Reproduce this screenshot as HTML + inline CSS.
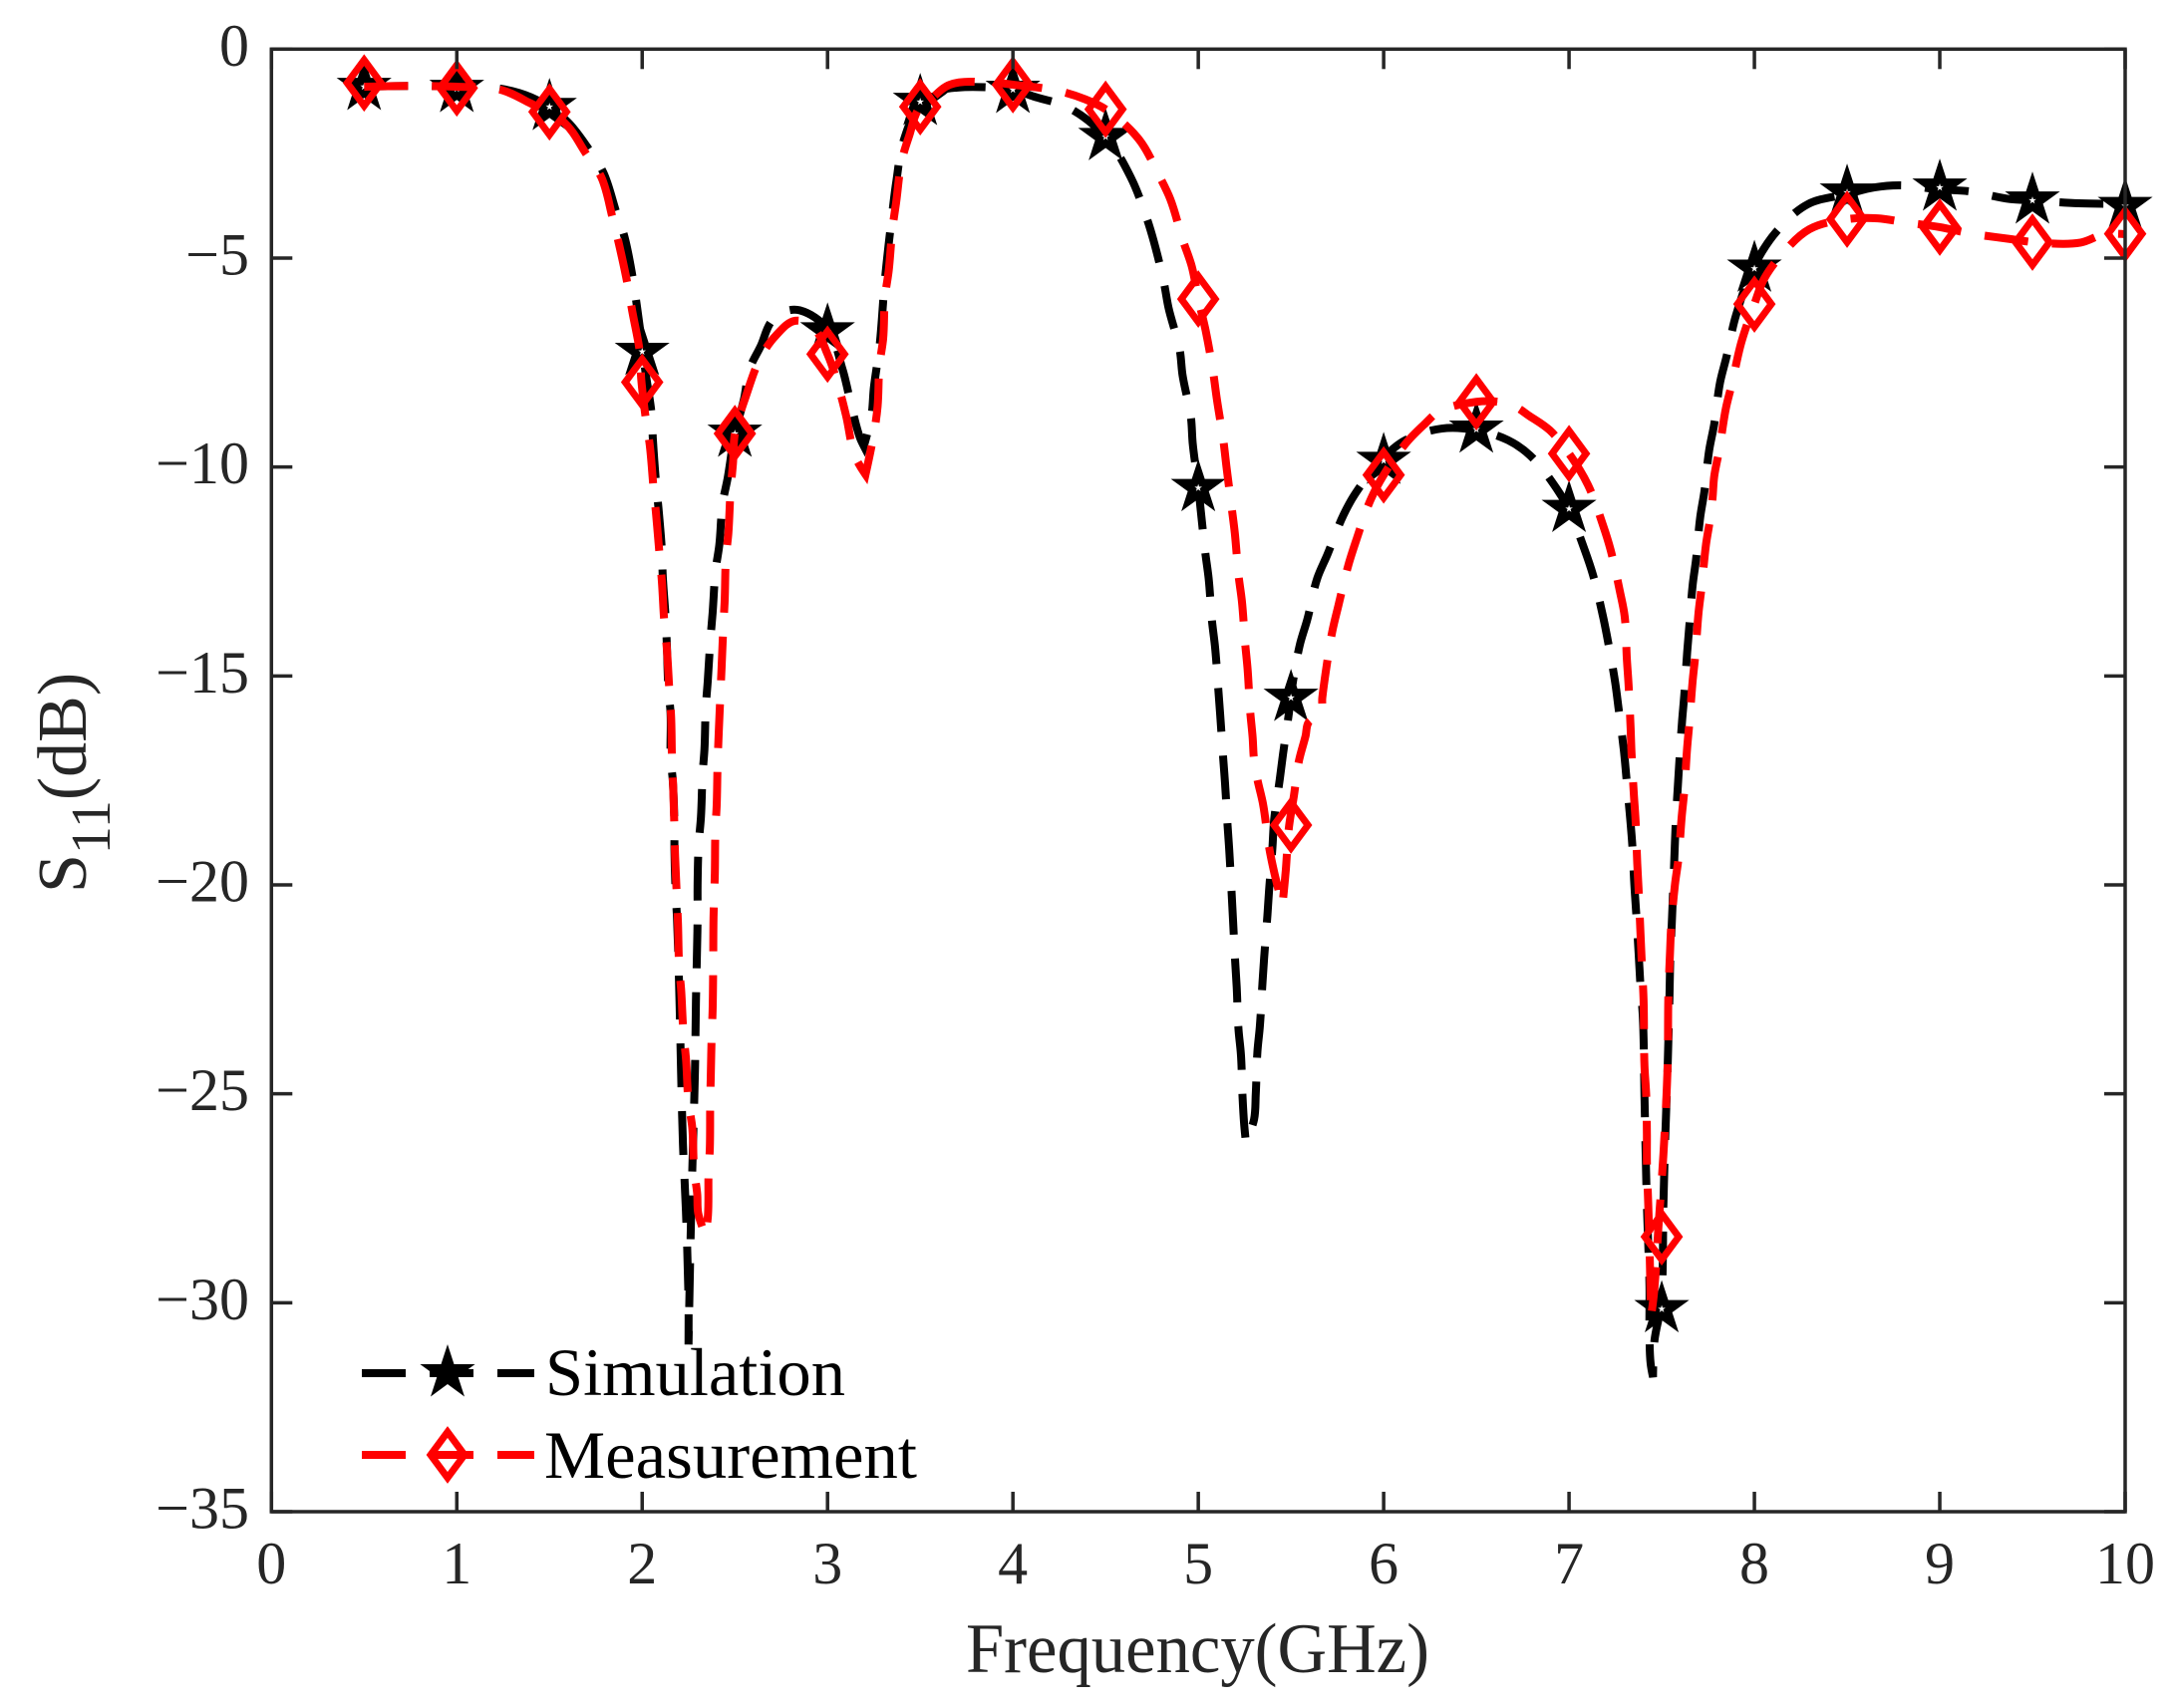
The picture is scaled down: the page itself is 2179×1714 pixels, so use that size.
<!DOCTYPE html>
<html lang="en">
<head>
<meta charset="utf-8">
<title>S11 versus frequency</title>
<style>
html,body{margin:0;padding:0;background:#fff;}
svg{display:block;}
text{font-family:"Liberation Serif",serif;}
</style>
</head>
<body>
<svg id="chart" width="2179" height="1714" viewBox="0 0 2179 1714" xmlns="http://www.w3.org/2000/svg">
  <rect x="0" y="0" width="2179" height="1714" fill="#ffffff"/>
  <g id="series-layer"></g>
  <g id="axes-layer"></g>
  <text x="969" y="1678" font-size="71" fill="#262626" textLength="465" lengthAdjust="spacingAndGlyphs">Frequency(GHz)</text>
  <text transform="translate(86,896) rotate(-90)" font-size="70" fill="#262626">S<tspan font-size="56" dy="24">11</tspan><tspan dy="-24">(dB)</tspan></text>
  <g id="legend">
    <line x1="363" y1="1378" x2="536" y2="1378" stroke="#000" stroke-width="8" stroke-dasharray="44 24"/>
    <polygon fill="#000" points="449,1349 455.5,1369 476.6,1369 459.5,1381.4 466,1401.5 449,1389 432,1401.5 438.5,1381.4 421.4,1369 442.5,1369"/>
    <text x="547" y="1400" font-size="68" fill="#000" textLength="301" lengthAdjust="spacingAndGlyphs">Simulation</text>
    <line x1="363" y1="1460" x2="536" y2="1460" stroke="#ff0000" stroke-width="8" stroke-dasharray="44 24"/>
    <polygon fill="none" stroke="#ff0000" stroke-width="7" points="449,1437 466,1460 449,1483 432,1460"/>
    <text x="546" y="1483" font-size="68" fill="#000" textLength="374" lengthAdjust="spacingAndGlyphs">Measurement</text>
  </g>
</svg>
<script>
var xTickValues = [0,1,2,3,4,5,6,7,8,9,10];
var yTickValues = [0,-5,-10,-15,-20,-25,-30,-35];
var markerFreq = [0.5,1,1.5,2,2.5,3,3.5,4,4.5,5,5.5,6,6.5,7,7.5,8,8.5,9,9.5,10];
var simMarkerDb = [-0.9,-0.95,-1.38,-7.24,-9.2,-6.75,-1.26,-0.97,-2.1,-10.5,-15.52,-9.85,-9.1,-11,-30.15,-5.25,-3.43,-3.31,-3.62,-3.75];
var measMarkerDb = [-0.81,-0.93,-1.5,-7.97,-9.2,-7.3,-1.38,-0.85,-1.44,-5.98,-18.57,-10.19,-8.44,-9.68,-28.42,-6.1,-4.07,-4.26,-4.62,-4.42];

var simFreq = [
0.5,0.75,1,1.24,1.4,1.5,1.6,1.705,1.79,1.86,1.905,1.95,1.97,2.005,2.017,2.05,
2.058,2.074,2.088,2.106,2.111,2.127,2.133,2.142,2.153,2.154,2.165,2.174,2.174,2.181,
2.188,2.202,2.21,2.22,2.236,2.25,2.25,
2.265,2.275,2.285,2.29,2.298,2.299,2.299,2.305,2.317,2.326,2.336,2.343,2.354,2.368,2.38,2.396,2.416,2.434,2.461,
2.5,2.55,2.58,2.64,2.7,2.774,2.85,3,3.08,3.135,3.175,3.196,3.237,3.25,3.28,3.31,3.35,3.37,3.41,3.5,3.6,3.7,3.89,4,4.11,4.3,4.5,
4.635,4.72,4.76,4.815,4.84,4.9,4.915,4.96,4.97,5,
5.014,5.038,5.056,5.074,5.09,5.108,5.118,5.134,5.144,5.158,5.167,5.18,5.187,5.199,5.207,5.217,5.23,5.239,5.247,5.257,
5.301,5.31,5.319,5.332,5.346,5.355,5.373,5.382,5.4,5.409,5.439,5.457,5.489,5.498,5.548,5.588,5.642,5.696,5.783,5.848,
6,6.117,6.314,6.5,6.672,6.789,6.932,7,7.084,7.129,7.183,7.21,7.249,7.267,7.296,7.309,7.33,7.341,7.353,7.362,7.376,7.384,7.398,7.407,7.42,7.434,7.434,7.44,7.453,
7.461,7.497,7.504,7.509,7.52,7.531,7.542,7.547,7.554,7.563,7.568,7.577,7.586,7.6,7.61,7.622,7.637,7.649,7.667,7.685,7.708,7.73,7.756,7.783,7.815,7.849,7.9,
8,8.122,8.289,8.5,8.647,8.786,9,9.153,9.38,9.5,9.75,10
];
var simDb = [
-0.9,-0.88,-0.9,-0.95,-1.15,-1.4,-1.75,-2.35,-2.95,-3.9,-4.5,-5.5,-6.1,-7.25,-7.7,-8.7,
-9.36,-10.34,-10.99,-11.98,-12.61,-13.65,-14.25,-15.35,-15.88,-16.99,-17.5,-18.62,-19.14,-20.24,
-20.8,-22.9,-24.5,-26.2,-27.8,-30,-31,
-27.7,-26.1,-24.4,-22.8,-21.1,-20.69,-19.97,-19.02,-18.38,-17.35,-16.75,-15.76,-15.11,-14.13,-13.49,-12.47,-11.87,-10.87,-10.27,
-9.2,-8.36,-7.65,-7.1,-6.5,-6.27,-6.25,-6.7,-7.65,-8.66,-9.3,-9.5,-8.77,-8.1,-7.13,-5.5,-3.9,-3.2,-2.2,-1.33,-1,-0.92,-0.92,-0.97,-1.13,-1.4,-2.1,
-3.06,-4.02,-4.6,-5.6,-6.2,-7.2,-7.8,-8.8,-9.44,-10.47,
-11.07,-12.06,-12.67,-13.69,-14.29,-15.32,-15.92,-16.95,-17.55,-18.58,-19.17,-20.21,-20.81,-21.84,-22.43,-23.46,-24.06,-25.1,-25.7,-26.17,
-25.61,-25.01,-23.99,-23.39,-22.36,-21.76,-20.72,-20.12,-19.1,-18.45,-17.49,-16.87,-15.88,-15.52,-14.25,-13.65,-12.66,-12.1,-11.15,-10.63,
-9.77,-9.36,-9.08,-9.12,-9.36,-9.72,-10.51,-11.03,-11.98,-12.58,-13.57,-14.17,-15.16,-15.77,-16.79,-17.41,-18.42,-19.03,-20.05,-20.65,-21.68,-22.32,-23.15,-25.06,-27.66,-29.61,-30.68,-31.45,-31.78,
-30.9,-30.04,-29.4,-27.66,-25.92,-24.51,-22.63,-21.64,-20.96,-19.97,-19.37,-18.38,-17.71,-16.71,-16.07,-15.44,-14.45,-13.8,-12.82,-12.22,-11.19,-10.59,-9.6,-8.98,-7.97,-7.37,-6.38,
-5.18,-4.35,-3.71,-3.47,-3.31,-3.26,-3.36,-3.4,-3.59,-3.62,-3.69,-3.7
];

var measFreq = [
0.5,0.75,1,1.235,1.39,1.58,1.7,1.78,1.84,1.875,1.92,1.946,1.987,1.995,2.02,
2.041,2.061,2.074,2.094,2.106,2.12,2.133,2.147,2.156,2.161,2.167,2.174,2.177,2.187,
2.193,2.2,2.21,2.222,2.237,2.25,2.27,2.28,2.297,2.302,2.342,
2.355,2.358,2.365,2.367,2.37,2.375,2.38,2.383,2.385,2.392,2.395,2.402,2.407,2.412,2.422,2.428,2.438,2.445,2.452,2.465,2.477,
2.49,2.5,2.56,2.64,2.72,2.826,2.92,3,3.065,3.1,3.15,3.205,3.25,3.27,3.28,3.3,3.31,3.33,3.35,3.37,3.4,3.44,3.5,3.535,3.66,3.885,4,4.245,4.39,4.5,
4.68,4.79,4.85,4.915,4.965,5,5.04,5.08,5.1,5.135,5.153,
5.18,5.197,5.217,5.235,5.253,5.266,5.28,5.293,5.301,5.319,5.349,5.382,5.409,5.454,
5.472,5.489,5.516,5.543,5.579,5.595,5.66,5.669,5.687,5.723,5.755,5.81,5.853,5.929,
6,6.126,6.224,6.296,6.5,6.618,6.708,6.78,6.896,7,7.102,7.183,7.224,7.275,7.3,7.312,7.321,7.332,7.337,7.35,7.359,7.368,7.375,7.385,7.391,7.402,7.407,7.416,7.42,7.42,7.427,7.434,7.442,
7.458,7.482,7.509,7.532,7.536,7.545,7.551,7.572,7.59,7.608,7.622,7.637,7.649,7.667,7.681,7.699,7.715,7.739,7.76,7.774,7.783,7.81,7.846,7.878,7.93,
8,8.052,8.141,8.297,8.5,8.665,8.805,9,9.163,9.39,9.531,9.76,9.888,10
];
var measDb = [
-0.9,-0.88,-0.9,-0.97,-1.28,-1.76,-2.52,-3.07,-4.03,-4.67,-5.6,-6.26,-7.25,-7.9,-8.86,
-9.48,-10.49,-11.08,-12.11,-12.72,-13.75,-14.34,-15.38,-15.97,-17.01,-17.62,-18.66,-19.24,-20.29,
-20.9,-22,-22.5,-23.5,-24.2,-25.2,-25.8,-26.8,-27.4,-27.85,-28.4,
-27.9,-26.9,-26.3,-25.2,-24.6,-23.6,-23,-22,-20.76,-19.73,-18.69,-18.09,-17.07,-16.47,-15.44,-14.84,-13.8,-13.2,-12.16,-11.58,-10.55,
-9.9,-9.2,-8.3,-7.37,-6.86,-6.5,-6.65,-7.3,-8.17,-8.77,-9.76,-10.18,-9.2,-8.55,-7.57,-6.93,-5.93,-5.3,-4.3,-3.67,-2.68,-2.08,-1.38,-1.28,-0.85,-0.8,-0.85,-1,-1.2,-1.44,
-2.16,-3.04,-3.6,-4.55,-5.2,-5.98,-6.74,-7.73,-8.37,-9.36,-10.03,
-10.97,-11.58,-12.59,-13.2,-14.23,-14.84,-15.85,-16.46,-17.02,-17.48,-18.06,-19.1,-19.69,-20.49,
-19.65,-18.62,-17.86,-17.03,-16.43,-16.11,-15.92,-15.52,-14.92,-13.93,-13.33,-12.34,-11.74,-10.79,
-10.19,-9.4,-8.96,-8.68,-8.44,-8.44,-8.55,-8.76,-9.12,-9.68,-10.43,-11.39,-11.98,-12.99,-13.57,-14.6,-15.2,-16.23,-16.83,-17.86,-18.46,-19.49,-20.09,-21.12,-21.72,-22.75,-24.34,-25,-25.98,-26.63,-27.61,-28.64,-30.35,
-29.78,-28.2,-26.46,-24.29,-22.63,-21.6,-21,-19.97,-19.38,-18.36,-17.74,-16.73,-16.13,-15.11,-14.51,-13.47,-12.88,-11.85,-11.27,-10.75,-10.23,-9.6,-8.6,-8.02,-7.01,
-6.1,-5.5,-4.95,-4.31,-4.07,-4.05,-4.14,-4.26,-4.41,-4.55,-4.63,-4.63,-4.43,-4.43
];

var NS = 'http://www.w3.org/2000/svg';
var plotLeft = 272.3, plotRight = 2132, plotTop = 49.3, plotBottom = 1517;
var xMin = 0, xMax = 10, yMin = -35, yMax = 0;
function xScale(f){ return plotLeft + (f - xMin) / (xMax - xMin) * (plotRight - plotLeft); }
function yScale(d){ return plotTop + (yMax - d) / (yMax - yMin) * (plotBottom - plotTop); }

var seriesLayer = document.getElementById('series-layer');
var axesLayer = document.getElementById('axes-layer');

/* Smooth path through the read points; sharp turns (the dips) stay as corners. */
function pathFor(fs, ds){
  var P = [];
  for (var i = 0; i < fs.length; i++) P.push([xScale(fs[i]), yScale(ds[i])]);
  var T = P.map(function(p, i){
    if (i === 0 || i === P.length - 1) return [0, 0];
    var a = [p[0] - P[i-1][0], p[1] - P[i-1][1]];
    var b = [P[i+1][0] - p[0], P[i+1][1] - p[1]];
    var la = Math.hypot(a[0], a[1]) || 1, lb = Math.hypot(b[0], b[1]) || 1;
    if ((a[0]*b[0] + a[1]*b[1]) / (la * lb) < 0.5) return [0, 0];
    var t = [a[0]/la + b[0]/lb, a[1]/la + b[1]/lb];
    var lt = Math.hypot(t[0], t[1]) || 1;
    return [t[0]/lt, t[1]/lt];
  });
  var d = 'M' + P[0][0].toFixed(2) + ' ' + P[0][1].toFixed(2);
  for (var j = 0; j < P.length - 1; j++) {
    var s = Math.hypot(P[j+1][0] - P[j][0], P[j+1][1] - P[j][1]) / 3;
    d += 'C' + (P[j][0] + T[j][0]*s).toFixed(2) + ' ' + (P[j][1] + T[j][1]*s).toFixed(2) + ' ' +
         (P[j+1][0] - T[j+1][0]*s).toFixed(2) + ' ' + (P[j+1][1] - T[j+1][1]*s).toFixed(2) + ' ' +
         P[j+1][0].toFixed(2) + ' ' + P[j+1][1].toFixed(2);
  }
  return d;
}
function starPoints(cx, cy, R){
  var r = R * 0.382, pts = [];
  for (var i = 0; i < 10; i++) {
    var a = -Math.PI / 2 + i * Math.PI / 5, q = i % 2 ? r : R;
    pts.push((cx + q * Math.cos(a)).toFixed(2) + ',' + (cy + q * Math.sin(a)).toFixed(2));
  }
  return pts.join(' ');
}

var simLine = document.createElementNS(NS, 'path');


simLine.setAttribute('d', pathFor(simFreq, simDb));
simLine.setAttribute('fill', 'none');
simLine.setAttribute('stroke', '#000000');
simLine.setAttribute('stroke-width', '8');
simLine.setAttribute('stroke-dasharray', '44 24');
seriesLayer.appendChild(simLine);

markerFreq.forEach(function(f, i){
  var cx = xScale(f), cy = yScale(simMarkerDb[i]);
  var star = document.createElementNS(NS, 'polygon');
  
  
  star.setAttribute('points', starPoints(cx, cy, 29));
  star.setAttribute('fill', '#000000');
  seriesLayer.appendChild(star);
  var spot = document.createElementNS(NS, 'polygon');
  
  
  spot.setAttribute('points', starPoints(cx, cy, 4));
  spot.setAttribute('fill', '#ffffff');
  seriesLayer.appendChild(spot);
});

var measLine = document.createElementNS(NS, 'path');


measLine.setAttribute('d', pathFor(measFreq, measDb));
measLine.setAttribute('fill', 'none');
measLine.setAttribute('stroke', '#ff0000');
measLine.setAttribute('stroke-width', '8');
measLine.setAttribute('stroke-dasharray', '44 24');
seriesLayer.appendChild(measLine);

markerFreq.forEach(function(f, i){
  var cx = xScale(f), cy = yScale(measMarkerDb[i]);
  var d = document.createElementNS(NS, 'polygon');
  
  
  d.setAttribute('points', cx + ',' + (cy - 23) + ' ' + (cx + 17) + ',' + cy + ' ' + cx + ',' + (cy + 23) + ' ' + (cx - 17) + ',' + cy);
  d.setAttribute('fill', 'none');
  d.setAttribute('stroke', '#ff0000');
  d.setAttribute('stroke-width', '7');
  seriesLayer.appendChild(d);
});

var axisColor = '#262626';
var box = document.createElementNS(NS, 'rect');


box.setAttribute('x', plotLeft);
box.setAttribute('y', plotTop);
box.setAttribute('width', plotRight - plotLeft);
box.setAttribute('height', plotBottom - plotTop);
box.setAttribute('fill', 'none');
box.setAttribute('stroke', axisColor);
box.setAttribute('stroke-width', '3.5');
axesLayer.appendChild(box);

xTickValues.forEach(function(v){
  var x = xScale(v);
  var bottomTick = document.createElementNS(NS, 'line');
  
  
  bottomTick.setAttribute('x1', x);
  bottomTick.setAttribute('x2', x);
  bottomTick.setAttribute('y1', plotBottom);
  bottomTick.setAttribute('y2', plotBottom - 20);
  bottomTick.setAttribute('stroke', axisColor);
  bottomTick.setAttribute('stroke-width', '3.5');
  axesLayer.appendChild(bottomTick);
  var topTick = document.createElementNS(NS, 'line');
  
  
  topTick.setAttribute('x1', x);
  topTick.setAttribute('x2', x);
  topTick.setAttribute('y1', plotTop);
  topTick.setAttribute('y2', plotTop + 20);
  topTick.setAttribute('stroke', axisColor);
  topTick.setAttribute('stroke-width', '3.5');
  axesLayer.appendChild(topTick);
  var label = document.createElementNS(NS, 'text');
  
  
  label.setAttribute('x', x);
  label.setAttribute('y', 1589);
  label.setAttribute('text-anchor', 'middle');
  label.setAttribute('font-size', '60');
  label.setAttribute('fill', axisColor);
  label.textContent = String(v);
  axesLayer.appendChild(label);
});

yTickValues.forEach(function(v){
  var y = yScale(v);
  var leftTick = document.createElementNS(NS, 'line');
  
  
  leftTick.setAttribute('x1', plotLeft);
  leftTick.setAttribute('x2', plotLeft + 21);
  leftTick.setAttribute('y1', y);
  leftTick.setAttribute('y2', y);
  leftTick.setAttribute('stroke', axisColor);
  leftTick.setAttribute('stroke-width', '3.5');
  axesLayer.appendChild(leftTick);
  var rightTick = document.createElementNS(NS, 'line');
  
  
  rightTick.setAttribute('x1', plotRight);
  rightTick.setAttribute('x2', plotRight - 21);
  rightTick.setAttribute('y1', y);
  rightTick.setAttribute('y2', y);
  rightTick.setAttribute('stroke', axisColor);
  rightTick.setAttribute('stroke-width', '3.5');
  axesLayer.appendChild(rightTick);
  var label = document.createElementNS(NS, 'text');
  
  
  label.setAttribute('x', 250);
  label.setAttribute('y', y + 16.5);
  label.setAttribute('text-anchor', 'end');
  label.setAttribute('font-size', '60');
  label.setAttribute('fill', axisColor);
  label.textContent = v < 0 ? '\u2212' + Math.abs(v) : String(v);
  axesLayer.appendChild(label);
});
</script>
</body>
</html>
